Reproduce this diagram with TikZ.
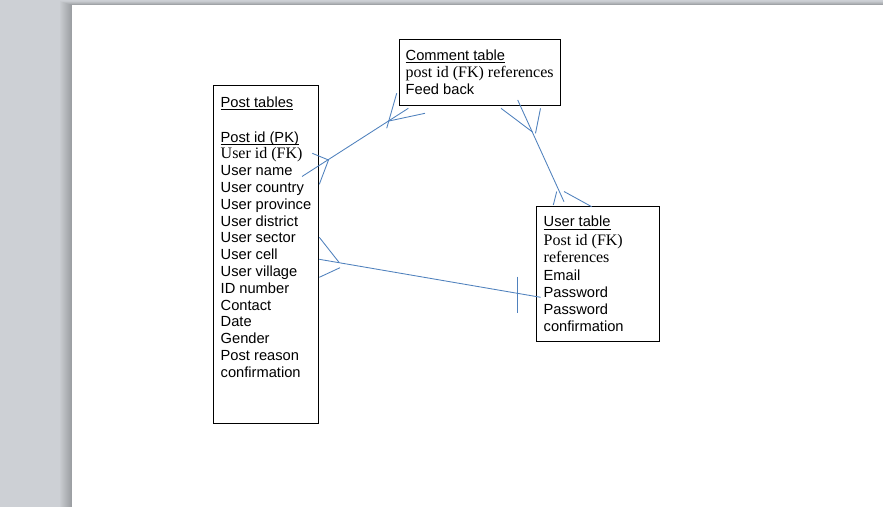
\documentclass[tikz,border=0pt]{standalone}
\usepackage{fontspec}
\setmainfont{Liberation Sans}
\newfontfamily\tnr{Liberation Serif}
\definecolor{bggray}{RGB}{205,208,213}
\definecolor{relblue}{RGB}{79,129,189}
\begin{document}
\begin{tikzpicture}[x=1pt,y=-1pt,
  ar/.style={inner sep=0pt, anchor=base west, font=\fontsize{14.67}{16}\selectfont},
  tr/.style={inner sep=0pt, anchor=base west, font=\tnr\fontsize{16}{18}\selectfont},
  tbl/.style={draw=black, line width=1pt, inner sep=0pt, anchor=north west},
  rel/.style={draw=relblue, line width=0.85pt},
  ul/.style={line width=0.9pt}]
\useasboundingbox (0,0) rectangle (883,507);
% background and page
\fill[bggray] (0,0) rectangle (883,507);
\foreach \i in {1,...,12} {\fill[black,opacity=0.018] ({72-\i},{5-\i*0.3}) rectangle (883,507);}
\fill[white] (72,5) rectangle (883,507);

% tables
\node[tbl, minimum width=104.5pt, minimum height=338pt] (post) at (213,85) {};
\node[tbl, minimum width=161.5pt, minimum height=66.5pt] (comment) at (398.5,38.5) {};
\node[tbl, minimum width=123.6pt, minimum height=135.2pt] (user) at (535.7,205.5) {};

% Post table text
\node[ar] (p0) at (220.5,107.2) {Post tables};
\node[ar] (p1) at (220.5,142.2) {Post id (PK)};
\node[tr] (p2) at (220.5,158.7) {User id (FK)};
\node[ar] (p3) at (220.5,175.7) {User name};
\node[ar] (p4) at (220.5,192.5) {User country};
\node[ar] (p5) at (220.5,209.3) {User province};
\node[ar] (p6) at (220.5,226.1) {User district};
\node[ar] (p7) at (220.5,242.9) {User sector};
\node[ar] (p8) at (220.5,259.7) {User cell};
\node[ar] (p9) at (220.5,276.5) {User village};
\node[ar] (p10) at (220.5,293.3) {ID number};
\node[ar] (p11) at (220.5,310.1) {Contact};
\node[ar] (p12) at (220.5,326.9) {Date};
\node[ar] (p13) at (220.5,343.7) {Gender};
\node[ar] (p14) at (220.5,360.5) {Post reason};
\node[ar] (p15) at (220.5,377.3) {confirmation};
\draw[ul] ([yshift=-2.5pt]p0.base west) -- ([yshift=-2.5pt]p0.base east);
\draw[ul] ([yshift=-2pt]p1.base west) -- ([yshift=-2pt]p1.base east);

% Comment table text
\node[ar] (c0) at (405.5,60) {Comment table};
\node[tr] (c1) at (405.5,77.4) {post id (FK) references};
\node[ar] (c2) at (405.5,94.7) {Feed back};
\draw[ul] ([yshift=-2.5pt]c0.base west) -- ([yshift=-2.5pt]c0.base east);

% User table text
\node[ar] (u0) at (543.5,226.4) {User table};
\node[tr] (u1) at (543.5,245) {Post id (FK)};
\node[tr] (u2) at (543.5,262.4) {references};
\node[ar] (u3) at (543.5,280.7) {Email};
\node[ar] (u4) at (543.5,297.5) {Password};
\node[ar] (u5) at (543.5,314.3) {Password};
\node[ar] (u6) at (543.5,331.2) {confirmation};
\draw[ul] ([yshift=-2.8pt]u0.base west) -- ([yshift=-2.8pt]u0.base east);

% connector: post -- comment
\coordinate (a1) at (302,176.5);
\coordinate (a2) at (408.3,108.3);
\coordinate (aj) at (388,121.2);
\coordinate (ap) at (328.5,160);
\draw[rel] (a1) -- (a2);
\draw[rel] (396.7,93.3) -- (386.7,128.3);
\draw[rel] (aj) -- (425,113.3);
\draw[rel] (312.3,153.3) -- (ap) -- (319.3,184.3);

% connector: comment -- user
\coordinate (b1) at (517.7,100);
\coordinate (b2) at (564,201.7);
\coordinate (bj) at (532.5,132);
\draw[rel] (b1) -- (b2);
\draw[rel] (501,108.3) -- (bj);
\draw[rel] (540.5,108.3) -- (535.5,133.3);
\draw[rel] (553.3,205) -- (556.7,191.5);
\draw[rel] (564,191.5) -- (591.7,206.7);

% connector: post -- user
\coordinate (c1s) at (319.3,259.3);
\coordinate (c2e) at (540.7,297.3);
\coordinate (cj) at (339.3,262.7);
\draw[rel] (c1s) -- (c2e);
\draw[rel] (319.3,237.3) -- (cj);
\draw[rel] (319.3,277.3) -- (340,267.7);
\draw[rel] (517.3,276.7) -- (517.3,312.7);
\end{tikzpicture}
\end{document}
